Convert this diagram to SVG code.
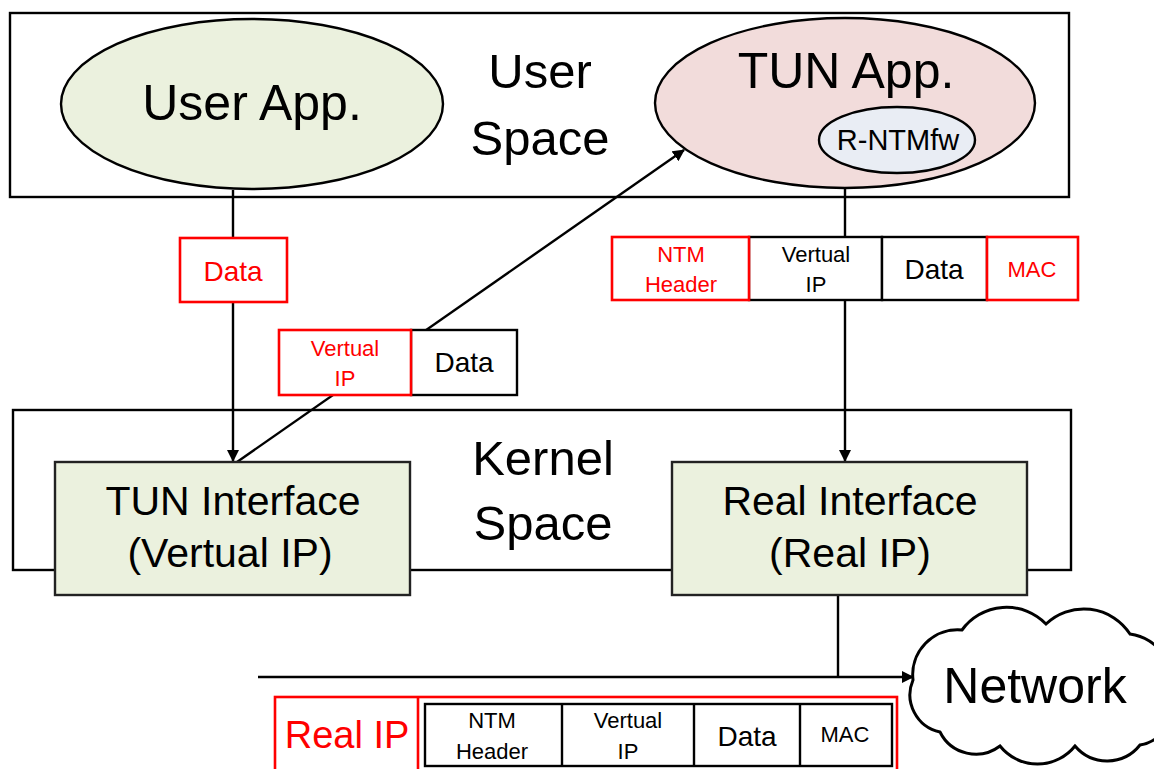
<svg xmlns="http://www.w3.org/2000/svg" width="1154" height="769" viewBox="0 0 1154 769">
  <defs>
    <marker id="arrow" viewBox="0 0 12 12" refX="11" refY="6" markerWidth="12" markerHeight="12" markerUnits="userSpaceOnUse" orient="auto">
      <path d="M0,0 L12,6 L0,12 Z" fill="#000"/>
    </marker>
    <style>
      text { font-family: "Liberation Sans", Arial, sans-serif; text-anchor: middle; fill: #000; }
      .red { fill: #ff0000; }
      .space { fill: none; stroke: #000; stroke-width: 2.4; }
      .ifbox { fill: #ebf1de; stroke: #222; stroke-width: 2.4; }
      .link { fill: none; stroke: #000; stroke-width: 2.4; }
      .cellK { fill: #fff; stroke: #000; stroke-width: 2.4; }
      .cellR { fill: #fff; stroke: #ff0000; stroke-width: 2.6; }
      .big { font-size: 49px; }
      .ifc { font-size: 41px; }
      .sm { font-size: 22px; }
      .md { font-size: 28px; }
    </style>
  </defs>

  <!-- address space frames -->
  <g id="user-space">
    <rect class="space" x="10" y="13" width="1059" height="184"/>
    <text class="big" x="540" y="88">User</text>
    <text class="big" x="540" y="155">Space</text>
  </g>
  <g id="kernel-space">
    <rect class="space" x="13" y="410" width="1058" height="160"/>
    <text class="big" x="543" y="475">Kernel</text>
    <text class="big" x="543" y="540">Space</text>
  </g>

  <!-- connectors -->
  <g id="connectors">
    <line class="link" x1="233" y1="190" x2="233" y2="461" marker-end="url(#arrow)"/>
    <line class="link" x1="237" y1="462" x2="684" y2="150" marker-end="url(#arrow)"/>
    <line class="link" x1="845" y1="188" x2="845" y2="461" marker-end="url(#arrow)"/>
    <polyline class="link" points="838,595 838,677"/>
    <line class="link" x1="258" y1="677" x2="913" y2="677" marker-end="url(#arrow)"/>
  </g>

  <!-- applications -->
  <g id="user-app">
    <ellipse cx="252" cy="104" rx="191" ry="85" fill="#ebf1de" stroke="#000" stroke-width="2.4"/>
    <text x="252" y="120" style="font-size:50px">User App.</text>
  </g>
  <g id="tun-app">
    <ellipse cx="845" cy="103" rx="190" ry="85" fill="#f2dcdb" stroke="#000" stroke-width="2.4"/>
    <text x="846" y="88" style="font-size:50px">TUN App.</text>
  </g>
  <g id="r-ntmfw">
    <ellipse cx="897" cy="140" rx="78" ry="33" fill="#e9edf4" stroke="#000" stroke-width="2.4"/>
    <text x="898" y="150" style="font-size:29px">R-NTMfw</text>
  </g>

  <!-- interfaces -->
  <g id="tun-interface">
    <rect class="ifbox" x="55" y="462" width="355" height="133"/>
    <text class="ifc" x="233" y="515">TUN Interface</text>
    <text class="ifc" x="230" y="567">(Vertual IP)</text>
  </g>
  <g id="real-interface">
    <rect class="ifbox" x="672" y="462" width="355" height="133"/>
    <text class="ifc" x="850" y="515">Real Interface</text>
    <text class="ifc" x="850" y="567">(Real IP)</text>
  </g>

  <!-- packet: plain data from the user application -->
  <g id="pkt-data">
    <rect class="cellR" x="180" y="238" width="107" height="64"/>
    <text class="md red" x="233" y="281">Data</text>
  </g>

  <!-- packet: virtual IP + data -->
  <g id="pkt-virtual">
    <rect class="cellK" x="411" y="330" width="106" height="65"/>
    <rect class="cellR" x="279" y="330" width="132" height="65"/>
    <text class="sm red" x="345" y="356">Vertual</text>
    <text class="sm red" x="345" y="386">IP</text>
    <text class="md" x="464" y="372">Data</text>
  </g>

  <!-- packet: NTM header + virtual IP + data + MAC -->
  <g id="pkt-ntm">
    <rect class="cellK" x="749" y="237" width="133" height="63"/>
    <rect class="cellK" x="882" y="237" width="105" height="63"/>
    <rect class="cellR" x="612" y="237" width="137" height="63"/>
    <rect class="cellR" x="987" y="237" width="91" height="63"/>
    <text class="sm red" x="681" y="262">NTM</text>
    <text class="sm red" x="681" y="292">Header</text>
    <text class="sm" x="816" y="262">Vertual</text>
    <text class="sm" x="816" y="292">IP</text>
    <text class="md" x="934" y="279">Data</text>
    <text class="sm red" x="1032" y="277">MAC</text>
  </g>

  <!-- packet on the wire: real IP wrapping the NTM packet -->
  <g id="pkt-wire">
    <rect class="cellR" x="275" y="697" width="622" height="80"/>
    <line x1="418" y1="697" x2="418" y2="769" stroke="#ff0000" stroke-width="2.6"/>
    <rect class="cellK" x="425" y="704" width="467" height="62"/>
    <line x1="562" y1="704" x2="562" y2="766" stroke="#000" stroke-width="2.4"/>
    <line x1="694" y1="704" x2="694" y2="766" stroke="#000" stroke-width="2.4"/>
    <line x1="800" y1="704" x2="800" y2="766" stroke="#000" stroke-width="2.4"/>
    <text class="red" x="347" y="748" style="font-size:38px">Real IP</text>
    <text class="sm" x="492" y="728">NTM</text>
    <text class="sm" x="492" y="759">Header</text>
    <text class="sm" x="628" y="728">Vertual</text>
    <text class="sm" x="628" y="759">IP</text>
    <text class="md" x="747" y="746">Data</text>
    <text class="sm" x="845" y="742">MAC</text>
  </g>

  <!-- network cloud -->
  <g id="network">
    <path d="M913,680 A45,45 0 0 1 962,630 A55,55 0 0 1 1046,624 A55,55 0 0 1 1130,634 A48,48 0 0 1 1168,700 A35,35 0 0 1 1140,745 A42,42 0 0 1 1075,746 A48,48 0 0 1 1000,746 A40,40 0 0 1 940,732 A38,38 0 0 1 913,680 Z" fill="#fff" stroke="#000" stroke-width="3"/>
    <text x="1035" y="703" style="font-size:50px">Network</text>
  </g>
</svg>
